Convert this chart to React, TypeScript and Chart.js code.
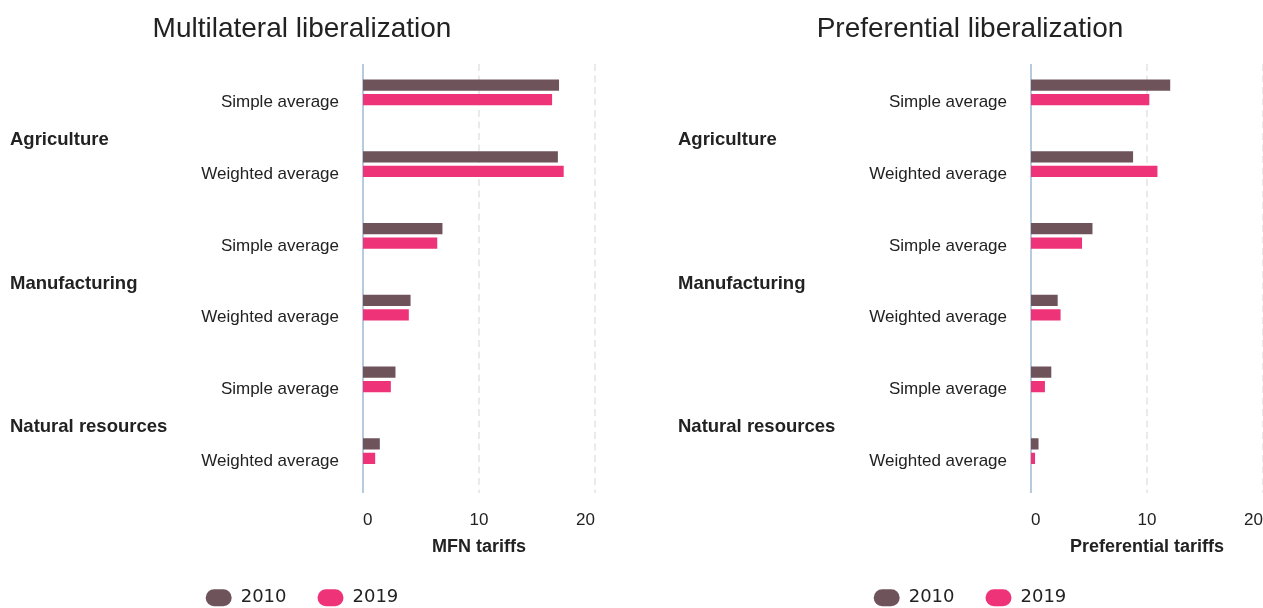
import React, { useEffect, useRef } from "react";
import { Chart, registerables } from "chart.js";

Chart.register(...registerables);

// ---- data ----
const groups = ["Agriculture", "Manufacturing", "Natural resources"];
const measures = ["Simple average", "Weighted average"];
const seriesYears = ["2010", "2019"];
const mfn2010 = [16.9, 16.8, 6.85, 4.1, 2.8, 1.45];
const mfn2019 = [16.3, 17.3, 6.4, 3.95, 2.4, 1.05];
const pref2010 = [12.0, 8.8, 5.3, 2.3, 1.75, 0.65];
const pref2019 = [10.2, 10.9, 4.4, 2.55, 1.2, 0.35];
const xMin = 0;
const xMax = 20;
const xStep = 10;

const categories = groups.flatMap(() => measures);

const SANS = '"Liberation Sans", Arial, Helvetica, sans-serif';
const TEXT = "#222222";
const COLORS = ["#6f535b", "#ee3379"];

const decorPlugin = {
  id: "decor",
  beforeDatasetsDraw(chart: any) {
    const { ctx, chartArea, scales } = chart;
    const x = scales.x;
    const top = chartArea.top + 7.5;
    const bottom = chartArea.bottom + 6;
    ctx.save();
    x.ticks.forEach((t: any) => {
      const px = x.getPixelForValue(t.value);
      ctx.beginPath();
      if (t.value === 0) {
        ctx.setLineDash([]);
        ctx.strokeStyle = "#b7cbdf";
        ctx.lineWidth = 2;
      } else {
        ctx.setLineDash([7, 4.5]);
        ctx.strokeStyle = "#e3e3e3";
        ctx.lineWidth = 1.5;
      }
      ctx.moveTo(px, top);
      ctx.lineTo(px, bottom);
      ctx.stroke();
    });
    ctx.restore();
  },
  afterDraw(chart: any) {
    const { ctx, scales } = chart;
    const y = scales.y;
    ctx.save();
    ctx.font = `bold 18.5px ${SANS}`;
    ctx.fillStyle = TEXT;
    ctx.textAlign = "left";
    ctx.textBaseline = "middle";
    groups.forEach((g, gi) => {
      let sum = 0;
      measures.forEach((_, mi) => {
        sum += y.getPixelForValue(gi * measures.length + mi);
      });
      const py = sum / measures.length + 12;
      ctx.fillText(g, 10, py);
    });
    ctx.restore();
  },
};

function BarPanel(props: {
  title: string;
  xTitle: string;
  a: number[];
  b: number[];
  left: number;
}) {
  const ref = useRef<HTMLCanvasElement>(null);
  useEffect(() => {
    if (!ref.current) return;
    const chart = new Chart(ref.current, {
      type: "bar",
      data: {
        labels: categories,
        datasets: [
          {
            label: seriesYears[0],
            data: props.a,
            backgroundColor: COLORS[0],
            borderWidth: 0,
            categoryPercentage: 0.4,
            barPercentage: 0.78,
          },
          {
            label: seriesYears[1],
            data: props.b,
            backgroundColor: COLORS[1],
            borderWidth: 0,
            categoryPercentage: 0.4,
            barPercentage: 0.78,
          },
        ],
      },
      options: {
        indexAxis: "y",
        responsive: false,
        animation: false,
        layout: { padding: { left: 9, right: 33, top: 0, bottom: -8.8 } },
        plugins: {
          title: {
            display: true,
            text: props.title,
            color: TEXT,
            font: { family: SANS, size: 28, weight: "normal" },
            padding: { top: 12, bottom: 10.9 },
          },
          legend: {
            position: "bottom",
            labels: {
              font: { family: '"DejaVu Sans", sans-serif', size: 18 },
              color: TEXT,
              boxWidth: 26,
              boxHeight: 17,
              padding: 31,
              useBorderRadius: true,
              borderRadius: 8.5,
            },
          },
          tooltip: { enabled: false },
        },
        scales: {
          x: {
            min: xMin,
            max: xMax,
            ticks: {
              stepSize: xStep,
              padding: 22.8,
              align: "inner",
              color: TEXT,
              font: { family: SANS, size: 17 },
            },
            grid: { display: false, drawTicks: false },
            border: { display: false },
            title: {
              display: true,
              text: props.xTitle,
              color: TEXT,
              font: { family: SANS, size: 18, weight: "bold" },
              padding: { top: -16.8, bottom: 0 },
            },
          },
          y: {
            ticks: {
              padding: 24,
              labelOffset: 10,
              color: TEXT,
              autoSkip: false,
              font: { family: SANS, size: 17 },
            },
            grid: { display: false, drawTicks: false },
            border: { display: false },
            afterFit: (s: any) => {
              s.width = 354;
            },
          },
        },
      } as any,
      plugins: [decorPlugin],
    });
    return () => chart.destroy();
  }, []);
  return (
    <canvas
      ref={ref}
      width={628}
      height={608}
      style={{ position: "absolute", left: props.left, top: 0, width: 628, height: 608 }}
    />
  );
}

export default function App() {
  return (
    <div
      style={{
        position: "fixed",
        left: 0,
        top: 0,
        width: 1263,
        height: 608,
        overflow: "hidden",
        background: "#ffffff",
      }}
    >
      <BarPanel title="Multilateral liberalization" xTitle="MFN tariffs" a={mfn2010} b={mfn2019} left={0} />
      <BarPanel title="Preferential liberalization" xTitle="Preferential tariffs" a={pref2010} b={pref2019} left={668} />
    </div>
  );
}
